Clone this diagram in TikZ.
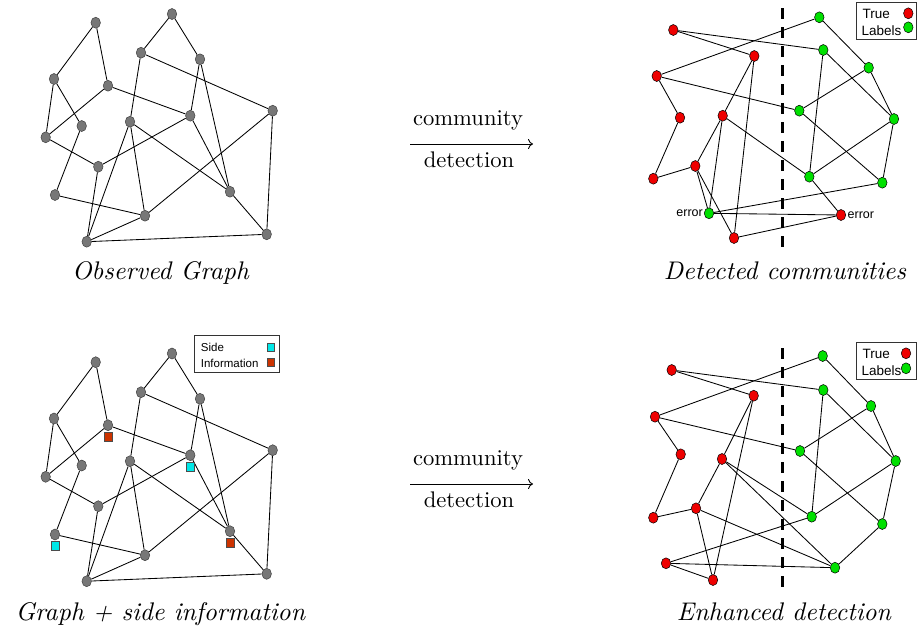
\documentclass[tikz,border=0pt]{standalone}
\usepackage{fontspec}
\newfontfamily\lsans{Liberation Sans}
\usetikzlibrary{shapes.geometric,arrows.meta,calc}
\definecolor{ngray}{HTML}{777777}
\definecolor{nred}{HTML}{EE0000}
\definecolor{ngreen}{HTML}{00E000}
\definecolor{scyan}{HTML}{00E8E8}
\definecolor{sred}{HTML}{CC3300}
\begin{document}
\begin{tikzpicture}[x=1pt,y=-1pt,
  edge/.style={draw=black,line width=0.85pt},
  vtx/.style={ellipse,draw=black!75,line width=0.5pt,minimum width=9.5pt,minimum height=11pt,inner sep=0pt},
  gnode/.style={vtx,fill=ngray},
  rnode/.style={vtx,fill=nred,draw=black},
  grnode/.style={vtx,fill=ngreen,draw=black},
  sqbox/.style={rectangle,draw=black!70,line width=0.5pt,minimum width=8.5pt,minimum height=9pt,inner sep=0pt},
  legbox/.style={draw=black!80,line width=0.6pt},
  legtext/.style={font=\lsans\fontsize{11.5}{12}\selectfont,inner sep=0pt,anchor=base west},
  biglegtext/.style={font=\lsans\fontsize{13.5}{14}\selectfont,inner sep=0pt,anchor=base west},
  errtext/.style={font=\lsans\fontsize{12.5}{13}\selectfont},
  caption/.style={font=\itshape,scale=2.55,inner sep=0pt,anchor=base},
  arrlabel/.style={scale=2.26,inner sep=0pt,anchor=base},
  arr/.style={line width=0.9pt,-{Computer Modern Rightarrow[length=5pt,width=10pt]}},
  dividing/.style={line width=2.6pt,dash pattern=on 11pt off 8pt}]
\useasboundingbox (0,0) rectangle (917,625);

% ---------- observed graph (top) and with side info (bottom) ----------
\foreach \pre/\dy in {t/0,b/339.5}{
  \foreach \n/\x/\y in {A/95.7/22.7,B/172/14,C/54/79,D/108/85.7,E/141/52.7,F/200/59.3,
      G/272.7/110.7,H/190.3/115.7,I/81.7/126,J/130/121.7,K/45.7/137.3,L/98.3/166.7,
      M/230/191.7,N/55/195,O/145/215.7,P/86.7/241.7,Q/266.7/234.3}
    \node[gnode] (\pre\n) at (\x,\y+\dy) {};
  \foreach \a/\b in {A/C,A/D,C/K,C/I,D/K,D/H,B/E,B/F,E/J,E/G,F/H,F/M,H/M,H/L,K/L,
      I/N,N/O,J/O,J/P,J/M,L/P,G/O,G/Q,M/Q,P/O,P/Q}
    \draw[edge] (\pre\a) -- (\pre\b);
}

% side information squares
\node[sqbox,fill=sred]  (sD) at ($(bD)+(0,12)$) {};
\node[sqbox,fill=scyan] (sH) at ($(bH)+(0,11.7)$) {};
\node[sqbox,fill=scyan] (sN) at ($(bN)+(0,11.7)$) {};
\node[sqbox,fill=sred]  (sM) at ($(bM)+(0,11.5)$) {};

% side information legend
\draw[legbox] (194.3,335) rectangle (279.3,372.3);
\node[legtext] (lside) at (200.7,351.7) {Side};
\node[legtext] (linfo) at (200.7,367.7) {Information};
\node[sqbox,fill=scyan,minimum width=7pt,minimum height=8pt] (lsq1) at (270.7,347.3) {};
\node[sqbox,fill=sred,minimum width=7pt,minimum height=8pt] (lsq2) at (270.7,362.7) {};

% ---------- detected communities (top right) ----------
\foreach \n/\x/\y in {r1/673.3/30,r2/754.3/56,r3/656.7/76,r4/680/117.7,r5/722.7/115.7,
    r6/695.3/166,r7/653.3/178.7,r8/841/215,r9/734/238}
  \node[rnode] (T\n) at (\x,\y) {};
\foreach \n/\x/\y in {g1/819.3/17.3,g2/823.3/50,g3/868.7/67.7,g4/799.3/110.7,g5/894/119,
    g6/809.3/176.7,g7/882.3/182.7,g8/709/213.3}
  \node[grnode] (T\n) at (\x,\y) {};
\foreach \a/\b in {r1/r2,r1/g2,r3/g1,r3/g4,r3/r4,r4/r7,r7/r6,r6/r5,r6/g8,r6/r9,r5/g8,
    r5/g6,r2/r9,r2/r5,g1/g3,g2/g6,g2/g5,g3/g4,g3/g5,g4/g7,g5/g6,g5/g7,g6/r8,g7/g8,g8/r8,r8/r9}
  \draw[edge] (T\a) -- (T\b);
\node[errtext,anchor=east,inner sep=1pt] (err1) at (Tg8.west) {error};
\node[errtext,anchor=west,inner sep=1.5pt] (err2) at (Tr8.east) {error};

% ---------- enhanced detection (bottom right) ----------
\foreach \n/\x/\y in {r1/671.7/370,r2/753.7/395.7,r3/655/416.7,r4/680.7/454.3,r5/722/459,
    r6/696/508.3,r7/653.3/517.7,r8/666/563.3,r9/713/580}
  \node[rnode] (B\n) at (\x,\y) {};
\foreach \n/\x/\y in {g1/822.7/356,g2/823.3/390,g3/871/406,g4/800/451,g5/895.7/461,
    g6/811.7/516.7,g7/882.3/524,g8/835/567.7}
  \node[grnode] (B\n) at (\x,\y) {};
\foreach \a/\b in {r1/r2,r1/g2,r3/g1,r3/g4,r3/r4,r4/r7,r7/r6,r6/r5,r6/r9,r6/g8,r5/g6,
    r5/g8,r2/r5,r2/r9,r8/g6,r8/g8,r8/r9,g1/g3,g2/g6,g2/g5,g3/g4,g3/g5,g4/g7,g5/g6,g5/g7,g7/g8}
  \draw[edge] (B\a) -- (B\b);

% dividing lines
\coordinate (d1a) at (782.3,8);   \coordinate (d1b) at (782.3,250);
\coordinate (d2a) at (782.3,348); \coordinate (d2b) at (782.3,590);
\draw[dividing] (d1a) -- (d1b);
\draw[dividing] (d2a) -- (d2b);

% legends (true labels)
\foreach \pre/\dy in {U/0,V/340}{
  \draw[legbox] (856.7,2.7+\dy) rectangle (916.3,39.3+\dy);
  \node[biglegtext] (\pre true) at (862.5,18.3+\dy) {True};
  \node[biglegtext] (\pre lab) at (861.3,35+\dy) {Labels};
}
\node[rnode] (Ur) at (908.3,13.3) {};
\node[grnode] (Ug) at (908.3,27.3) {};
\node[rnode] (Vr) at (906,353.3) {};
\node[grnode] (Vg) at (906,368.3) {};

% ---------- arrows ----------
\foreach \pre/\dy in {X/0,Y/340}{
  \coordinate (\pre a) at (410,144+\dy);
  \coordinate (\pre b) at (533,144+\dy);
  \draw[arr] (\pre a) -- (\pre b);
  \node[arrlabel] (\pre c) at (468,125+\dy) {community};
  \node[arrlabel] (\pre d) at (469,167+\dy) {detection};
}

% ---------- captions ----------
\node[caption] (cap1) at (160.5,279) {Observed Graph};
\node[caption] (cap2) at (785,279) {Detected communities};
\node[caption,anchor=base west] (cap3) at (15,620) {Graph + side information};
\node[caption] (cap4) at (784,620) {Enhanced detection};
\end{tikzpicture}
\end{document}
